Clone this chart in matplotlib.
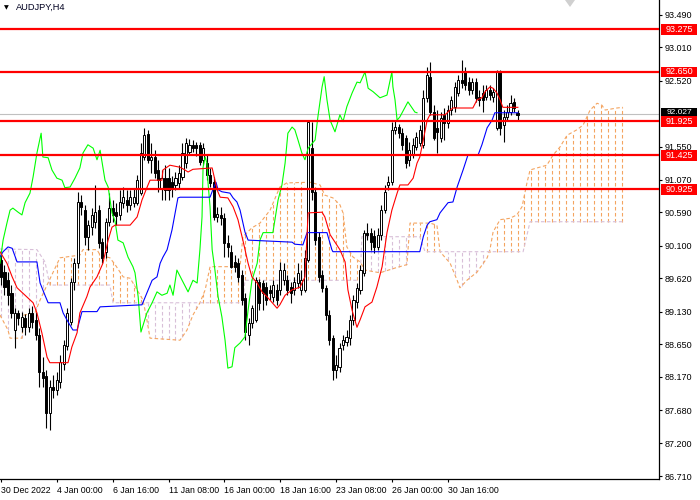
import numpy as np
import matplotlib

matplotlib.use("Agg")

import matplotlib.pyplot as plt
from matplotlib.patches import Rectangle, Polygon
import matplotlib.transforms as mtransforms

plt.rcParams["font.family"] = ["Liberation Sans", "DejaVu Sans"]

symbol_title = "AUDJPY,H4"

time_label_bars = [0, 16, 32, 48, 64, 80, 96, 112, 128]
time_labels = [
    "30 Dec 2022", "4 Jan 00:00", "6 Jan 16:00", "11 Jan 08:00", "16 Jan 00:00",
    "18 Jan 16:00", "23 Jan 08:00", "26 Jan 00:00", "30 Jan 16:00",
]
price_ticks = [93.490, 93.010, 92.520, 91.550, 91.070, 90.590, 90.100,
               89.620, 89.130, 88.650, 88.170, 87.680, 87.200, 86.710]

# H4 candles, one value per bar
opens = [
    89.89, 89.71, 89.59, 89.40, 88.86, 89.11, 88.90, 89.04, 88.90, 89.11,
    89.01, 88.79, 88.24, 88.19, 87.64, 88.02, 87.98, 88.10, 88.36, 88.63,
    88.98, 89.56, 89.84, 90.74, 90.62, 90.23, 90.37, 90.45, 90.62, 90.15,
    90.01, 90.45, 90.65, 90.59, 90.55, 90.73, 90.77, 90.70, 90.73, 90.73,
    90.87, 91.40, 91.74, 91.36, 91.40, 91.21, 90.95, 91.09, 91.09, 91.03,
    90.99, 91.02, 91.11, 91.31, 91.47, 91.58, 91.58, 91.58, 91.36, 91.31,
    91.14, 91.03, 90.52, 90.55, 90.51, 90.14, 90.01, 89.86, 89.84, 89.67,
    89.33, 88.79, 88.96, 89.01, 89.56, 89.55, 89.49, 89.45, 89.35, 89.45,
    89.45, 89.59, 89.59, 89.49, 89.45, 89.55, 89.45, 89.45, 89.89, 91.53,
    90.89, 90.23, 89.67, 89.48, 89.08, 88.74, 88.27, 88.32, 88.64, 88.68,
    88.74, 89.01, 89.27, 89.45, 89.70, 90.29, 90.29, 90.24, 90.08, 90.26,
    90.62, 90.99, 91.03, 91.80, 91.84, 91.75, 91.68, 91.36, 91.43, 91.55,
    91.61, 91.58, 92.27, 92.58, 92.06, 91.83, 91.68, 92.02, 91.90, 92.09,
    92.14, 92.34, 92.53, 92.65, 92.50, 92.38, 92.50, 92.28, 92.34, 92.28,
    92.38, 92.28, 91.83, 92.65, 91.87, 91.99, 92.06, 92.21, 92.05,
]
highs = [
    89.96, 89.82, 89.71, 89.52, 89.18, 89.15, 89.13, 89.10, 89.18, 89.21,
    89.13, 88.89, 88.46, 88.27, 88.13, 88.20, 88.24, 88.49, 88.71, 89.18,
    89.62, 89.92, 90.89, 90.84, 90.70, 90.48, 90.65, 90.99, 90.70, 90.21,
    90.51, 90.87, 90.77, 90.73, 90.92, 90.96, 90.92, 90.92, 90.95, 91.14,
    91.61, 91.83, 91.80, 91.61, 91.50, 91.36, 91.21, 91.28, 91.24, 91.12,
    91.18, 91.28, 91.61, 91.68, 91.66, 91.65, 91.62, 91.62, 91.61, 91.43,
    91.24, 91.11, 90.67, 90.67, 90.58, 90.26, 90.11, 89.96, 89.92, 89.74,
    89.40, 89.04, 89.23, 89.64, 89.61, 89.59, 89.56, 89.52, 89.59, 89.54,
    89.86, 89.84, 89.67, 89.56, 89.64, 89.84, 89.74, 90.04, 91.94, 91.92,
    90.95, 90.30, 89.74, 89.52, 89.15, 88.79, 88.49, 88.67, 88.79, 88.86,
    89.08, 89.37, 89.55, 89.82, 90.33, 90.43, 90.36, 90.33, 90.36, 90.70,
    90.99, 91.12, 91.92, 91.94, 91.89, 91.83, 91.72, 91.62, 91.68, 91.77,
    91.87, 92.38, 92.72, 92.80, 92.16, 92.09, 92.06, 92.12, 92.16, 92.30,
    92.50, 92.61, 92.83, 92.72, 92.58, 92.56, 92.56, 92.38, 92.46, 92.46,
    92.46, 92.41, 92.68, 92.68, 92.09, 92.16, 92.31, 92.27, 92.09,
]
lows = [
    89.52, 89.37, 89.23, 89.04, 88.60, 88.93, 88.83, 88.79, 88.83, 88.89,
    88.71, 88.02, 88.02, 87.42, 87.39, 87.86, 87.91, 88.01, 88.27, 88.57,
    88.93, 89.45, 89.77, 90.55, 90.11, 90.04, 90.26, 90.36, 90.06, 89.84,
    89.92, 90.39, 90.45, 90.40, 90.48, 90.65, 90.59, 90.62, 90.67, 90.70,
    90.84, 91.36, 91.31, 91.17, 91.09, 90.89, 90.77, 90.77, 90.77, 90.81,
    90.92, 90.95, 91.06, 91.24, 91.43, 91.47, 91.42, 91.28, 91.28, 91.06,
    90.96, 90.48, 90.45, 90.40, 89.93, 89.93, 89.77, 89.71, 89.57, 89.23,
    88.71, 88.64, 88.89, 88.98, 89.15, 89.15, 89.23, 89.30, 89.27, 89.23,
    89.37, 89.52, 89.37, 89.26, 89.37, 89.48, 89.37, 89.42, 89.86, 90.77,
    90.11, 89.57, 89.42, 89.01, 88.64, 88.13, 88.16, 88.24, 88.57, 88.63,
    88.64, 88.93, 89.18, 89.39, 89.65, 90.18, 90.04, 89.99, 90.04, 90.18,
    90.58, 90.92, 90.99, 91.74, 91.68, 91.50, 91.24, 91.27, 91.39, 91.50,
    91.56, 91.53, 92.21, 92.02, 91.65, 91.46, 91.62, 91.65, 91.83, 92.02,
    92.06, 92.30, 92.41, 92.38, 92.31, 92.33, 92.21, 92.15, 92.06, 92.24,
    92.24, 92.21, 91.80, 91.72, 91.62, 91.94, 92.02, 92.06, 91.94,
]
closes = [
    89.64, 89.49, 89.37, 89.11, 89.11, 89.04, 89.05, 88.90, 89.11, 88.98,
    88.79, 88.24, 88.16, 87.64, 88.02, 87.98, 88.13, 88.39, 88.64, 89.11,
    89.56, 89.84, 90.74, 90.67, 90.23, 90.40, 90.55, 90.59, 90.14, 89.92,
    90.45, 90.65, 90.55, 90.53, 90.74, 90.81, 90.70, 90.81, 90.81, 91.06,
    91.46, 91.72, 91.36, 91.40, 91.17, 91.06, 91.09, 90.92, 90.92, 90.95,
    91.09, 91.17, 91.46, 91.61, 91.58, 91.53, 91.53, 91.33, 91.53, 91.14,
    91.02, 90.52, 90.56, 90.51, 90.14, 90.08, 89.79, 89.79, 89.64, 89.30,
    88.83, 88.96, 89.18, 89.59, 89.26, 89.40, 89.30, 89.40, 89.52, 89.30,
    89.74, 89.74, 89.45, 89.40, 89.56, 89.70, 89.59, 89.92, 91.92, 90.89,
    90.18, 89.64, 89.48, 89.08, 88.71, 88.27, 88.35, 88.60, 88.71, 88.76,
    89.01, 89.30, 89.48, 89.74, 90.29, 90.26, 90.15, 90.08, 90.26, 90.62,
    90.89, 91.03, 91.80, 91.84, 91.75, 91.58, 91.31, 91.50, 91.58, 91.69,
    91.80, 92.27, 92.61, 92.06, 91.68, 91.77, 91.97, 91.90, 92.09, 92.24,
    92.43, 92.53, 92.49, 92.46, 92.38, 92.50, 92.27, 92.24, 92.24, 92.38,
    92.31, 92.36, 92.65, 91.83, 91.99, 92.06, 92.19, 92.12, 92.02,
]

# Ichimoku lines read as (bar, price) vertices
tenkan_bar = [-0.3, 1.7, 3.2, 4.6, 6.9, 9.2, 10.3, 11.7, 13.2, 14.0, 19.2, 20.3, 21.8, 22.6,
              24.6, 25.5, 27.5, 29.2, 30.7, 31.8, 32.7, 37.0, 39.0, 40.4, 41.8, 42.7, 46.1,
              46.4, 48.4, 51.3, 52.7, 53.6, 55.0, 60.5, 61.3, 61.9, 62.8, 65.0, 66.5, 67.9,
              69.3, 70.8, 71.9, 73.4, 74.8, 76.2, 79.1, 79.9, 81.4, 83.4, 85.7, 87.1, 88.0,
              92.0, 92.8, 94.3, 97.1, 98.6, 99.4, 100.6, 102.0, 102.9, 104.3, 106.3, 107.7,
              109.2, 110.6, 112.0, 113.5, 114.3, 116.6, 118.1, 119.2, 120.0, 121.0, 122.1,
              122.9, 127.2, 128.7, 129.5, 135.2, 136.4, 137.8, 138.7, 140.1, 141.0, 142.1,
              143.0, 143.8, 148.1]
tenkan_price = [90.01, 89.84, 89.64, 89.48, 89.37, 89.26, 89.11, 88.82, 88.46, 88.38, 88.38,
                88.61, 88.82, 89.11, 89.35, 89.49, 89.64, 89.84, 90.18, 90.37, 90.40, 90.40,
                90.52, 90.77, 90.95, 91.06, 91.06, 91.21, 91.28, 91.25, 91.21, 91.18, 91.22,
                91.24, 91.06, 90.92, 90.81, 90.80, 90.67, 90.48, 90.18, 89.84, 89.64, 89.55,
                89.42, 89.35, 89.18, 89.23, 89.37, 89.45, 89.49, 89.64, 90.58, 90.59, 90.52,
                90.26, 90.04, 89.86, 89.45, 89.15, 88.90, 89.01, 89.20, 89.27, 89.49, 89.79,
                90.29, 90.62, 90.87, 90.99, 90.99, 91.09, 91.31, 91.40, 91.65, 91.94, 92.02,
                92.02, 92.09, 92.12, 92.12, 92.24, 92.27, 92.36, 92.43, 92.41, 92.34, 92.24,
                92.13, 92.13]

kijun_bar = [-0.3, 0.6, 2.0, 3.2, 4.6, 10.3, 11.2, 12.6, 13.5, 16.9, 17.8, 19.2, 20.6, 21.8,
             23.2, 27.5, 28.4, 40.4, 43.3, 44.7, 45.6, 46.4, 47.6, 49.0, 49.9, 50.7, 51.3,
             59.9, 60.7, 61.6, 62.2, 63.3, 65.6, 66.5, 67.6, 68.5, 69.9, 70.8, 83.4, 84.2,
             86.5, 87.7, 93.4, 94.8, 95.1, 120.0, 121.0, 122.1, 122.9, 124.9, 125.8, 128.1,
             129.5, 130.7, 132.4, 133.8, 136.7, 137.8, 139.3, 140.7, 141.5, 148.1]
kijun_price = [89.93, 90.01, 90.08, 90.06, 89.86, 89.86, 89.55, 89.37, 89.26, 89.26, 89.11,
               88.98, 88.86, 88.86, 89.13, 89.13, 89.20, 89.23, 89.59, 89.64, 89.84, 89.93,
               90.04, 90.33, 90.58, 90.80, 90.81, 90.81, 90.92, 91.03, 90.92, 90.89, 90.87,
               90.80, 90.74, 90.62, 90.30, 90.18, 90.15, 90.12, 90.11, 90.29, 90.29, 90.04,
               90.01, 90.01, 90.23, 90.40, 90.45, 90.48, 90.58, 90.73, 90.74, 90.96, 91.21,
               91.43, 91.43, 91.58, 91.83, 91.94, 92.05, 92.05]

chikou_bar = [-0.3, 0.6, 1.7, 2.6, 3.4, 4.9, 6.0, 6.9, 8.3, 9.2, 10.3, 11.5, 12.0, 13.5, 14.6,
              16.0, 17.5, 18.3, 19.8, 21.2, 22.6, 23.5, 24.9, 26.4, 27.5, 28.4, 29.8, 30.7,
              31.8, 32.7, 33.5, 35.0, 36.4, 37.8, 38.4, 39.3, 40.1, 41.8, 43.3, 44.7, 46.1,
              47.6, 48.4, 49.3, 50.4, 51.9, 53.6, 55.0, 56.2, 57.0, 57.6, 57.9, 58.5, 59.0,
              59.3, 59.9, 60.5, 61.3, 62.2, 63.3, 64.2, 65.0, 66.2, 67.0, 68.5, 69.9, 70.8,
              71.9, 73.4, 74.2, 75.1, 77.9, 79.4, 80.5, 81.4, 82.2, 83.4, 84.2, 85.1, 86.2,
              87.1, 88.0, 90.0, 90.8, 92.0, 92.6, 93.4, 94.3, 95.7, 97.1, 98.0, 99.1, 100.6,
              102.0, 102.9, 104.3, 105.2, 106.6, 108.6, 110.6, 112.0, 112.3, 112.9, 113.5,
              114.3, 116.6, 118.6, 119.2]
chikou_price = [89.84, 90.18, 90.43, 90.62, 90.65, 90.59, 90.55, 90.73, 90.87, 91.11, 91.46,
                91.75, 91.40, 91.39, 91.21, 91.09, 91.06, 90.95, 90.96, 91.09, 91.24, 91.46,
                91.58, 91.53, 91.36, 91.50, 91.06, 90.96, 90.58, 90.45, 90.18, 90.14, 89.93,
                89.79, 89.70, 89.35, 88.83, 89.11, 89.26, 89.42, 89.37, 89.40, 89.52, 89.37,
                89.74, 89.59, 89.42, 89.59, 89.55, 90.04, 90.52, 91.25, 91.40, 91.31, 91.03,
                90.67, 90.04, 89.74, 89.35, 89.05, 88.71, 88.30, 88.32, 88.60, 88.67, 88.76,
                89.15, 89.59, 89.84, 90.18, 90.29, 90.29, 90.77, 90.99, 91.31, 91.75, 91.84,
                91.80, 91.65, 91.46, 91.36, 91.53, 91.65, 91.99, 92.43, 92.58, 92.24, 91.94,
                91.77, 92.02, 91.92, 92.14, 92.34, 92.50, 92.49, 92.65, 92.41, 92.36, 92.27,
                92.31, 92.65, 92.43, 92.24, 91.94, 91.99, 92.21, 92.06, 92.05]

span_a_bar = [-0.3, 2.0, 2.6, 6.0, 6.6, 9.7, 11.2, 13.2, 15.5, 16.9, 22.6, 23.5, 27.5, 28.4,
              31.2, 32.7, 35.0, 37.0, 39.0, 40.7, 41.8, 42.7, 51.3, 53.3, 55.0, 57.0, 58.5,
              59.9, 68.5, 69.3, 71.9, 74.2, 77.1, 79.9, 81.9, 88.5, 91.4, 92.8, 95.1, 97.1,
              98.0, 99.1, 100.9, 102.9, 104.3, 108.6, 112.9, 116.3, 117.2, 122.9, 124.9,
              125.8, 128.7, 130.7, 131.5, 133.5, 136.4, 139.3, 140.1, 141.0, 143.0, 145.8,
              147.8, 149.3, 150.7, 151.6, 153.6, 156.4, 158.2, 160.2, 162.2, 165.0, 166.8,
              168.8, 170.8, 172.2, 173.1, 176.5, 178.2]
span_a_price = [89.08, 88.86, 88.74, 88.74, 89.08, 89.11, 89.30, 89.52, 89.77, 89.92, 89.96,
                90.04, 90.04, 89.96, 89.92, 89.82, 89.64, 89.62, 89.45, 89.30, 89.01, 88.74,
                88.71, 88.86, 89.08, 89.26, 89.45, 89.79, 89.79, 90.23, 90.36, 90.43, 90.62,
                90.96, 91.02, 91.03, 90.99, 90.84, 90.80, 90.70, 90.58, 90.08, 89.93, 89.86,
                89.74, 89.70, 89.77, 89.82, 90.43, 90.43, 90.40, 90.01, 89.84, 89.59, 89.48,
                89.59, 89.71, 89.92, 90.04, 90.30, 90.48, 90.50, 90.55, 90.67, 91.02, 91.21,
                91.24, 91.28, 91.43, 91.55, 91.72, 91.80, 91.87, 92.09, 92.19, 92.16, 92.09,
                92.12, 92.13]

span_b_bar = [-0.3, 10.3, 12.6, 14.0, 31.2, 32.1, 69.3, 69.9, 102.9, 103.4, 120.0, 121.5,
              149.6, 151.6, 178.2]
span_b_price = [90.05, 90.04, 89.86, 89.52, 89.52, 89.26, 89.26, 89.59, 89.59, 90.23, 90.23,
                90.01, 90.01, 90.45, 90.45]

level_prices = [93.275, 92.650, 91.925, 91.425, 90.925]
last_price = 92.027

W, H = 700, 500
fig = plt.figure(figsize=(W / 100, H / 100), dpi=100)
fig.patch.set_facecolor("white")
ax = fig.add_axes([0, 21 / H, 659 / W, 479 / H])
ax.set_facecolor("white")
ax.set_xlim(-0.287, 188.54)
ax.set_ylim(86.672, 93.706)

# cloud: vertical dotted hatch every other bar between span A and span B
cloud_x = np.arange(0, 179, 2)
sa = np.interp(cloud_x, span_a_bar, span_a_price)
sb = np.interp(cloud_x, span_b_bar, span_b_price)
bull = sa >= sb
dots = (0, (3.2, 2.2))
ax.vlines(cloud_x[bull], sb[bull], sa[bull], colors="#F4A460", linewidth=0.8,
          linestyles=dots, zorder=1)
ax.vlines(cloud_x[~bull], sa[~bull], sb[~bull], colors="#D8BFD8", linewidth=0.8,
          linestyles=dots, zorder=1)
ax.plot(span_a_bar, span_a_price, color="#F4A460", linewidth=0.8, linestyle=dots, zorder=1)
ax.plot(span_b_bar, span_b_price, color="#D8BFD8", linewidth=0.8, linestyle=dots, zorder=1)

ax.axhline(last_price, color="#C0C0C0", linewidth=0.8, zorder=0.5)

# candles
o = np.array(opens)
c = np.array(closes)
bars = np.arange(len(o))
ax.vlines(bars, lows, highs, colors="black", linewidth=0.8, zorder=3)
body_lo = np.minimum(o, c)
body_h = np.maximum(np.abs(c - o), 0.004)
ax.bar(bars, body_h, bottom=body_lo, width=0.6,
       color=np.where(c >= o, "white", "black"), edgecolor="black", linewidth=0.7, zorder=4)

ax.plot(chikou_bar, chikou_price, color="#00FF00", linewidth=0.8, zorder=5)
ax.plot(kijun_bar, kijun_price, color="#0000FF", linewidth=0.8, zorder=5)
ax.plot(tenkan_bar, tenkan_price, color="#FF0000", linewidth=0.8, zorder=5)

for p in level_prices:
    ax.axhline(p, color="#FF0000", linewidth=1.6, zorder=6)

for side in ("left", "top"):
    ax.spines[side].set_visible(False)
for side in ("right", "bottom"):
    ax.spines[side].set_color("black")
    ax.spines[side].set_linewidth(0.9)

ax.yaxis.tick_right()
ax.set_yticks(price_ticks)
ax.set_yticklabels([f"{v:.3f}" for v in price_ticks])
ax.tick_params(axis="y", length=2.2, width=0.8, pad=2, labelsize=6.5, colors="black")
ax.set_xticks(time_label_bars)
ax.set_xticklabels(time_labels)
ax.tick_params(axis="x", length=2.2, width=0.8, pad=2.5, labelsize=6.3, colors="black")
for lbl in ax.get_xticklabels():
    lbl.set_horizontalalignment("left")

# price tags on the scale
tr = mtransforms.blended_transform_factory(ax.transAxes, ax.transData)
tag_x = 661 / 659
tag_w = 36 / 659
px = (93.706 - 86.672) / 479
tag_h = 10.5 * px

# current price tag sits just above the 91.925 tag, partly hidden by it
cur_y = last_price + 1.5 * px
ax.add_patch(Rectangle((tag_x, cur_y - tag_h / 2), tag_w, tag_h, transform=tr,
                       facecolor="black", edgecolor="none", clip_on=False, zorder=7))
ax.text(tag_x + tag_w / 2, cur_y, f"{last_price:.3f}", transform=tr, ha="center",
        va="center", fontsize=6.0, color="white", clip_on=False, zorder=8)
for p in level_prices:
    ax.add_patch(Rectangle((tag_x, p - tag_h / 2), tag_w, tag_h, transform=tr,
                           facecolor="#FF0000", edgecolor="none", clip_on=False, zorder=9))
    ax.text(tag_x + tag_w / 2, p, f"{p:.3f}", transform=tr, ha="center", va="center",
            fontsize=6.5, color="white", clip_on=False, zorder=10)

fig.text(4 / W, 1 - 8 / H, "\u25bc", fontsize=4.5, family=["DejaVu Sans"],
         ha="left", va="center", color="black")
fig.text(16 / W, 1 - 7 / H, symbol_title, fontsize=6.7, ha="left", va="center",
         color="#000020")
fig.add_artist(Polygon([(565 / W, 1.0), (575 / W, 1.0), (570 / W, 1 - 7 / H)],
                       closed=True, transform=fig.transFigure, facecolor="#D0D0D0",
                       edgecolor="none"))

fig.savefig("out.png", dpi=100)
